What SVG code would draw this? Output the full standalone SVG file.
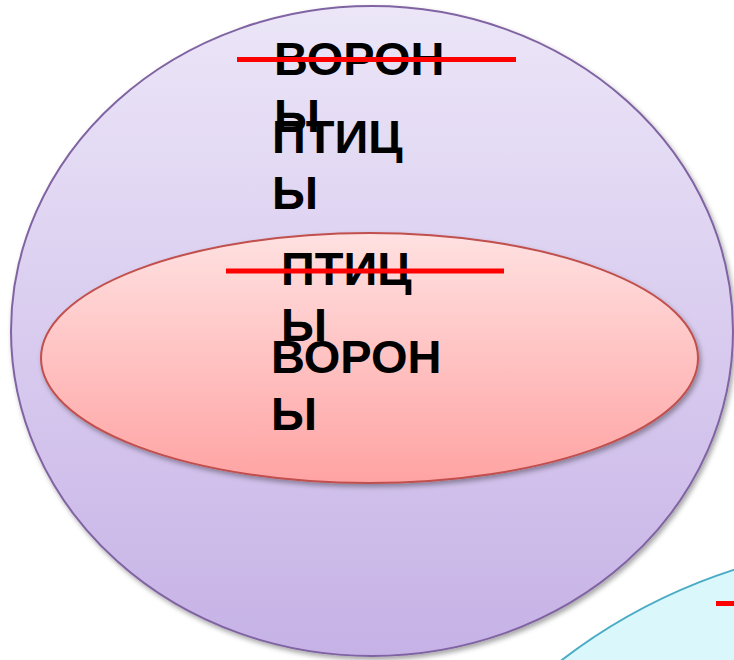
<svg xmlns="http://www.w3.org/2000/svg" width="734" height="660" viewBox="0 0 734 660">
<defs>
<linearGradient id="gPurple" x1="0" y1="0" x2="0" y2="1">
<stop offset="0" stop-color="#ECE6F8"/>
<stop offset="1" stop-color="#C6B2E6"/>
</linearGradient>
<linearGradient id="gRed" x1="0" y1="0" x2="0" y2="1">
<stop offset="0" stop-color="#FFE1E1"/>
<stop offset="1" stop-color="#FFA3A3"/>
</linearGradient>
<filter id="shadow" x="-10%" y="-10%" width="120%" height="120%">
<feDropShadow dx="2" dy="3" stdDeviation="2.5" flood-color="#000" flood-opacity="0.35"/>
</filter>
</defs>
<style>
.lbl{font-family:"Liberation Sans",Arial,sans-serif;font-weight:bold;font-size:47px;fill:#000}
.strike{stroke:#FF0000;stroke-width:5;fill:none}
</style>
<rect width="734" height="660" fill="#FFFFFF"/>
<g id="cyan-circle">
<circle cx="910" cy="1114" r="572" fill="#DAF7FC" stroke="#4BACC6" stroke-width="2"/>
<line class="strike" x1="716" y1="603.5" x2="734" y2="603.5" stroke-width="6"/>
</g>
<g id="big-circle">
<ellipse cx="372" cy="331" rx="361" ry="325" fill="url(#gPurple)" stroke="#8064A2" stroke-width="2" filter="url(#shadow)"/>
<text class="lbl" x="274" y="75">ВОРОН</text>
<text class="lbl" x="274" y="132">Ы</text>
<text class="lbl" x="272" y="153">ПТИЦ</text>
<text class="lbl" x="272" y="209">Ы</text>
<line class="strike" x1="237" y1="59.5" x2="516" y2="59.5"/>
</g>
<g id="red-ellipse">
<ellipse cx="369.5" cy="358" rx="328.5" ry="125" fill="url(#gRed)" stroke="#C0504D" stroke-width="2" filter="url(#shadow)"/>
<text class="lbl" x="281" y="285">ПТИЦ</text>
<text class="lbl" x="281" y="341">Ы</text>
<text class="lbl" x="271" y="373">ВОРОН</text>
<text class="lbl" x="271" y="430">Ы</text>
<line class="strike" x1="226" y1="271" x2="504" y2="271"/>
</g>
<g id="connectors"/>
</svg>
